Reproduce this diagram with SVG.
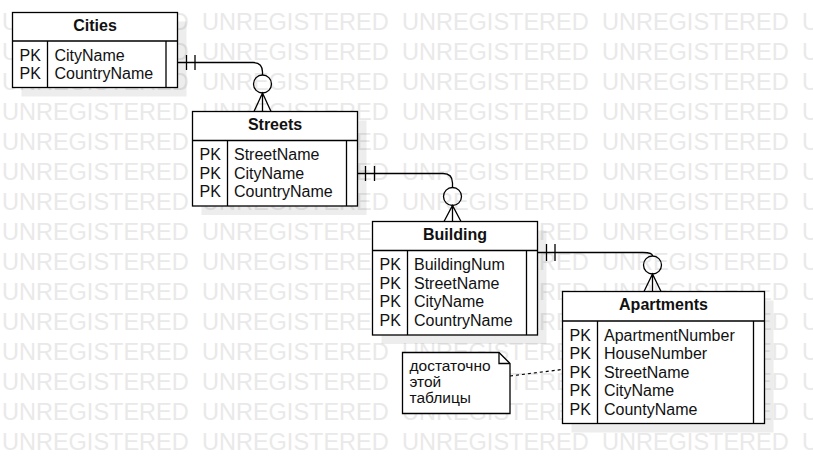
<svg xmlns="http://www.w3.org/2000/svg" xmlns:xlink="http://www.w3.org/1999/xlink" width="813" height="473" viewBox="0 0 813 473">
<style>
.wm{font-family:"Liberation Sans",Arial,sans-serif;font-size:23.5px;fill:#e9e9e9}
.box{fill:#fff;stroke:#000;stroke-width:1.3}
.shadow{fill:#000;fill-opacity:0.07}
.ln{fill:none;stroke:#000;stroke-width:1.3}
.t{font-family:"Liberation Sans",Arial,sans-serif;font-size:16px;fill:#111}
.title{font-family:"Liberation Sans",Arial,sans-serif;font-size:16px;font-weight:bold;fill:#111;text-anchor:middle}
.note{font-family:"Liberation Sans",Arial,sans-serif;font-size:15.5px;fill:#111}
.conn{fill:none;stroke:#000;stroke-width:1.3}
.dash{fill:none;stroke:#000;stroke-width:1.2;stroke-dasharray:3 3}
</style>
<defs>
<text id="wmrow" class="wm"><tspan x="2">UNREGISTERED</tspan><tspan x="202">UNREGISTERED</tspan><tspan x="402">UNREGISTERED</tspan><tspan x="602">UNREGISTERED</tspan><tspan x="802">UNREGISTERED</tspan></text>
</defs>
<rect width="813" height="473" fill="#fff"/>
<g id="watermark">
<use xlink:href="#wmrow" y="30"/>
<use xlink:href="#wmrow" y="60"/>
<use xlink:href="#wmrow" y="90"/>
<use xlink:href="#wmrow" y="120"/>
<use xlink:href="#wmrow" y="150"/>
<use xlink:href="#wmrow" y="180"/>
<use xlink:href="#wmrow" y="210"/>
<use xlink:href="#wmrow" y="240"/>
<use xlink:href="#wmrow" y="270"/>
<use xlink:href="#wmrow" y="300"/>
<use xlink:href="#wmrow" y="330"/>
<use xlink:href="#wmrow" y="360"/>
<use xlink:href="#wmrow" y="390"/>
<use xlink:href="#wmrow" y="420"/>
<use xlink:href="#wmrow" y="450"/>
</g>
<g id="shadows">
<rect class="shadow" x="21.5" y="21.5" width="165" height="75"/>
<rect class="shadow" x="201.5" y="120.5" width="165" height="94.5"/>
<rect class="shadow" x="381.5" y="230.5" width="165" height="113.5"/>
<rect class="shadow" x="571.5" y="300.5" width="202" height="132"/>
</g>
<g id="connectors">
<path class="conn" d="M177.5 62.5 H253 Q262.5 62.5 262.5 72 V75"/>
<path class="conn" d="M186.5 55 V70 M195 55 V70"/>
<circle class="conn" cx="262.5" cy="84" r="9"/>
<path class="conn" d="M254 111.5 L262.5 93 L271 111.5 M262.5 93 V111.5"/>
<path class="conn" d="M357.5 173.5 H443 Q452.5 173.5 452.5 183 V187.5"/>
<path class="conn" d="M365.5 166 V181 M374.5 166 V181"/>
<circle class="conn" cx="452.5" cy="196.5" r="9"/>
<path class="conn" d="M444 221.5 L452.5 205.5 L461 221.5 M452.5 205.5 V221.5"/>
<path class="conn" d="M537.5 252.5 H643 Q652.5 252.5 652.5 256"/>
<path class="conn" d="M546.5 244 V261 M555 244 V261"/>
<circle class="conn" cx="652.5" cy="265" r="9"/>
<path class="conn" d="M644 291.5 L652.5 274 L661 291.5 M652.5 274 V291.5"/>
<path class="dash" d="M510 376 L562 369.5"/>
</g>
<g id="cities">
<rect class="box" x="12.5" y="12.5" width="165" height="75"/>
<path class="ln" d="M12.5 41 H177.5 M47.5 41 V87.5 M166 41 V87.5"/>
<text class="title" x="95" y="30.5">Cities</text>
<text class="t" x="19.5" y="60.5">PK</text>
<text class="t" x="54.5" y="60.5">CityName</text>
<text class="t" x="19.5" y="79.1">PK</text>
<text class="t" x="54.5" y="79.1">CountryName</text>
</g>
<g id="streets">
<rect class="box" x="192.5" y="111.5" width="165" height="94.5"/>
<path class="ln" d="M192.5 140.5 H357.5 M227.5 140.5 V206 M346.5 140.5 V206"/>
<text class="title" x="275" y="130">Streets</text>
<text class="t" x="199.5" y="160">PK</text>
<text class="t" x="234" y="160">StreetName</text>
<text class="t" x="199.5" y="178.6">PK</text>
<text class="t" x="234" y="178.6">CityName</text>
<text class="t" x="199.5" y="197.2">PK</text>
<text class="t" x="234" y="197.2">CountryName</text>
</g>
<g id="building">
<rect class="box" x="372.5" y="221.5" width="165" height="113.5"/>
<path class="ln" d="M372.5 250.5 H537.5 M407.5 250.5 V335 M526.5 250.5 V335"/>
<text class="title" x="455" y="240">Building</text>
<text class="t" x="379.5" y="270">PK</text>
<text class="t" x="414" y="270">BuildingNum</text>
<text class="t" x="379.5" y="288.6">PK</text>
<text class="t" x="414" y="288.6">StreetName</text>
<text class="t" x="379.5" y="307.2">PK</text>
<text class="t" x="414" y="307.2">CityName</text>
<text class="t" x="379.5" y="325.8">PK</text>
<text class="t" x="414" y="325.8">CountryName</text>
</g>
<g id="apartments">
<rect class="box" x="562.5" y="291.5" width="202" height="132"/>
<path class="ln" d="M562.5 321 H764.5 M597.5 321 V423.5 M753.5 321 V423.5"/>
<text class="title" x="663.5" y="310">Apartments</text>
<text class="t" x="569.5" y="340.5">PK</text>
<text class="t" x="604" y="340.5">ApartmentNumber</text>
<text class="t" x="569.5" y="359.1">PK</text>
<text class="t" x="604" y="359.1">HouseNumber</text>
<text class="t" x="569.5" y="377.7">PK</text>
<text class="t" x="604" y="377.7">StreetName</text>
<text class="t" x="569.5" y="396.3">PK</text>
<text class="t" x="604" y="396.3">CityName</text>
<text class="t" x="569.5" y="414.9">PK</text>
<text class="t" x="604" y="414.9">CountyName</text>
</g>
<g id="note">
<path class="box" d="M402.5 352.5 H499 L510 363.5 V413.5 H402.5 Z"/>
<path class="ln" d="M499 352.5 V363.5 H510"/>
<text class="note" x="409.5" y="371">достаточно</text>
<text class="note" x="409.5" y="387">этой</text>
<text class="note" x="409.5" y="403">таблицы</text>
</g>
</svg>
